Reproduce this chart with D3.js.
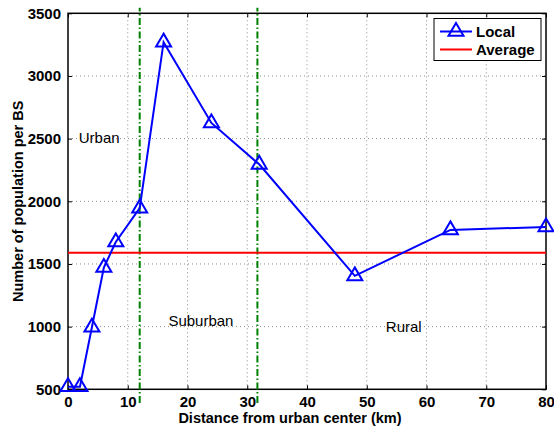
<!DOCTYPE html>
<html lang="en">
<head>
  <meta charset="UTF-8">
  <title>Population per BS</title>
  <script src="https://d3js.org/d3.v7.min.js"></script>
  <style>
    body { margin: 0; padding: 0; background: #fff; }
    svg { display: block; font-family: 'Liberation Sans', Arial, sans-serif; }
    .tick-label { font-size: 15px; font-weight: bold; }
    .axis-title { font-size: 14.5px; font-weight: bold; }
    .region { font-size: 15px; }
  </style>
</head>
<body>
  <div id="chart"></div>
  <script>
    // Distance (km) and local population per BS
    const distance = [0, 2, 4, 6, 8, 12, 16, 24, 32, 48, 64, 80];
    const localPop = [520, 520, 995, 1472, 1675, 1945, 3270, 2625, 2295, 1405, 1772, 1795];
    const averagePop = 1590;

    // region borders (km) and the span of those dashed lines
    const borders = [12, 31.7];
    const borderSpan = [390, 3545];

    const regionNames = ['Urban', 'Suburban', 'Rural'];
    const regionX = [1.8, 16.8, 53.2];
    const regionY = [2510, 1045, 1000];

    const xTicks = [0, 10, 20, 30, 40, 50, 60, 70, 80];
    const yTicks = [500, 1000, 1500, 2000, 2500, 3000, 3500];

    const width = 554;
    const height = 426;
    const margin = { top: 13.3, right: 8, bottom: 36.7, left: 68 };

    const svg = d3.select('#chart')
      .append('svg')
      .attr('width', width)
      .attr('height', height);

    const x = d3.scaleLinear()
      .domain([0, 80])
      .range([margin.left, width - margin.right]);

    const y = d3.scaleLinear()
      .domain([500, 3500])
      .range([height - margin.bottom, margin.top]);

    const x0 = x.range()[0], x1 = x.range()[1];
    const y0 = y.range()[0], y1 = y.range()[1];

    // dotted grid
    const grid = svg.append('g')
      .attr('stroke', '#8c8c8c')
      .attr('stroke-width', 1)
      .attr('stroke-dasharray', '1,3');
    grid.selectAll('.gx')
      .data(xTicks.slice(1, -1))
      .join('line')
      .attr('x1', d => x(d)).attr('x2', d => x(d))
      .attr('y1', y0).attr('y2', y1);
    grid.selectAll('.gy')
      .data(yTicks.slice(1, -1))
      .join('line')
      .attr('x1', x0).attr('x2', x1)
      .attr('y1', d => y(d)).attr('y2', d => y(d));

    // axes: inward ticks on all four sides
    svg.append('g')
      .attr('transform', `translate(0,${y0})`)
      .call(d3.axisBottom(x).tickValues(xTicks).tickSize(-4).tickPadding(7).tickFormat(d3.format('d')))
      .call(g => g.select('.domain').remove());
    svg.append('g')
      .attr('transform', `translate(0,${y1})`)
      .call(d3.axisTop(x).tickValues(xTicks).tickSize(-4).tickFormat(''))
      .call(g => g.select('.domain').remove());
    svg.append('g')
      .attr('transform', `translate(${x0},0)`)
      .call(d3.axisLeft(y).tickValues(yTicks).tickSize(-4).tickPadding(7).tickFormat(d3.format('d')))
      .call(g => g.select('.domain').remove());
    svg.append('g')
      .attr('transform', `translate(${x1},0)`)
      .call(d3.axisRight(y).tickValues(yTicks).tickSize(-4).tickFormat(''))
      .call(g => g.select('.domain').remove());

    svg.selectAll('.tick line').attr('stroke', '#000').attr('stroke-width', 1);
    svg.selectAll('.tick text')
      .attr('class', 'tick-label')
      .attr('fill', '#000');

    svg.append('rect')
      .attr('x', x0).attr('y', y1)
      .attr('width', x1 - x0).attr('height', y0 - y1)
      .attr('fill', 'none')
      .attr('stroke', '#000')
      .attr('stroke-width', 1.5);

    // region borders
    svg.append('g')
      .selectAll('line')
      .data(borders)
      .join('line')
      .attr('x1', d => x(d)).attr('x2', d => x(d))
      .attr('y1', y(borderSpan[0])).attr('y2', y(borderSpan[1]))
      .attr('stroke', '#008000')
      .attr('stroke-width', 2)
      .attr('stroke-dasharray', '7,2.5,1.5,2.5');

    // region names
    svg.append('g')
      .selectAll('text')
      .data(regionNames)
      .join('text')
      .attr('class', 'region')
      .attr('x', (d, i) => x(regionX[i]))
      .attr('y', (d, i) => y(regionY[i]))
      .attr('dy', '0.36em')
      .attr('fill', '#000')
      .text(d => d);

    // average line
    svg.append('line')
      .attr('x1', x0).attr('x2', x1)
      .attr('y1', y(averagePop)).attr('y2', y(averagePop))
      .attr('stroke', '#ff0000')
      .attr('stroke-width', 2);

    // local series
    const pts = distance.map((d, i) => [d, localPop[i]]);
    const line = d3.line().x(d => x(d[0])).y(d => y(d[1]));
    svg.append('path')
      .datum(pts)
      .attr('d', line)
      .attr('fill', 'none')
      .attr('stroke', '#0000ff')
      .attr('stroke-width', 2);

    const tri = 'M0,-8.5L7.5,4.3L-7.5,4.3Z';
    svg.append('g')
      .selectAll('path')
      .data(pts)
      .join('path')
      .attr('transform', d => `translate(${x(d[0])},${y(d[1])})`)
      .attr('d', tri)
      .attr('fill', 'none')
      .attr('stroke', '#0000ff')
      .attr('stroke-width', 2);

    // axis titles
    svg.append('text')
      .attr('class', 'axis-title')
      .attr('x', (x0 + x1) / 2 - 17)
      .attr('y', 423)
      .attr('text-anchor', 'middle')
      .text('Distance from urban center (km)');

    svg.append('text')
      .attr('class', 'axis-title')
      .attr('transform', `translate(23,${(y0 + y1) / 2}) rotate(-90)`)
      .attr('text-anchor', 'middle')
      .text('Number of population per BS');

    // legend
    const lg = svg.append('g').attr('transform', 'translate(434,18.5)');
    lg.append('rect')
      .attr('width', 107).attr('height', 42)
      .attr('fill', '#fff')
      .attr('stroke', '#000')
      .attr('stroke-width', 1);
    lg.append('line')
      .attr('x1', 6).attr('x2', 38).attr('y1', 13).attr('y2', 13)
      .attr('stroke', '#0000ff').attr('stroke-width', 2);
    lg.append('path')
      .attr('transform', 'translate(22,13)')
      .attr('d', tri)
      .attr('fill', 'none')
      .attr('stroke', '#0000ff').attr('stroke-width', 2);
    lg.append('line')
      .attr('x1', 6).attr('x2', 38).attr('y1', 31).attr('y2', 31)
      .attr('stroke', '#ff0000').attr('stroke-width', 2);
    lg.selectAll('text')
      .data(['Local', 'Average'])
      .join('text')
      .attr('x', 42)
      .attr('y', (d, i) => 13 + i * 18)
      .attr('dy', '0.36em')
      .style('font-size', '15px')
      .style('font-weight', 'bold')
      .text(d => d);
  </script>
</body>
</html>
